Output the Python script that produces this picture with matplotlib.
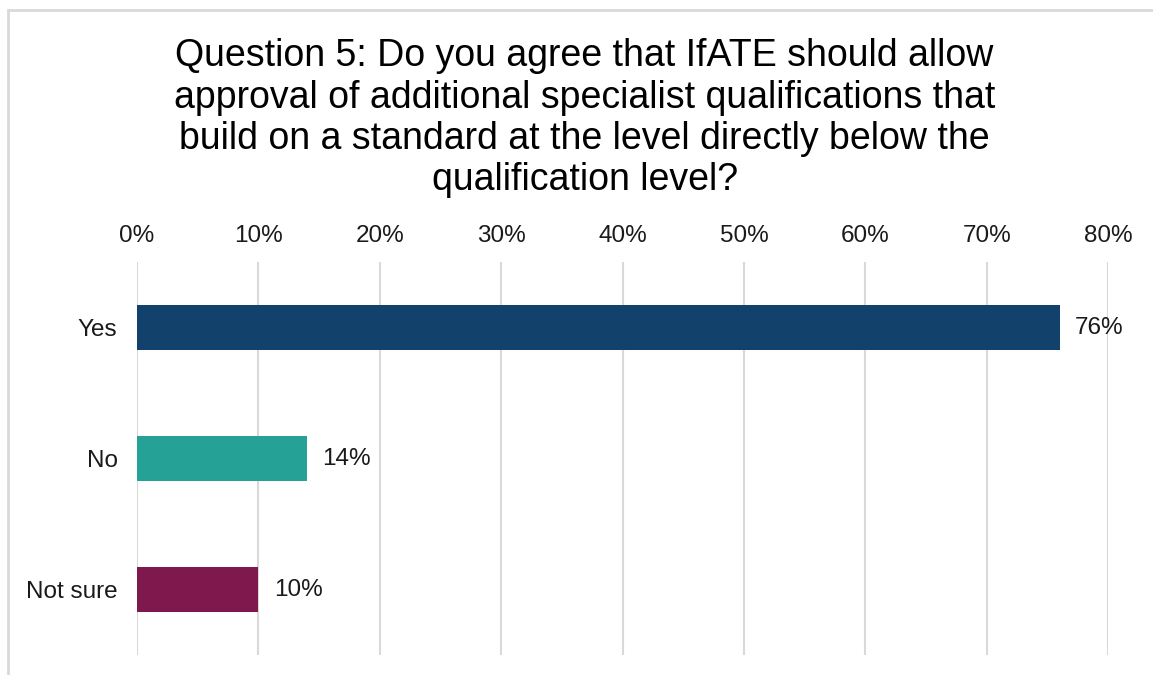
import matplotlib.pyplot as plt
from matplotlib.patches import Rectangle

plt.rcParams['font.family'] = ['Liberation Sans', 'DejaVu Sans']

# Survey answers (percent of respondents)
categories = ['Yes', 'No', 'Not sure']
values = [76, 14, 10]
colors = ['#12416B', '#26A195', '#7E184D']
x_ticks = [0, 10, 20, 30, 40, 50, 60, 70, 80]

title = ('Question 5: Do you agree that IfATE should allow\n'
         'approval of additional specialist qualifications that\n'
         'build on a standard at the level directly below the\n'
         'qualification level?')

fig = plt.figure(figsize=(11.53, 6.75), dpi=100)
ax = fig.add_axes([0.1188, 0.0296, 0.8423, 0.5822])

y = list(range(len(categories)))
ax.barh(y, values, height=0.35, color=colors, zorder=3)

for yi, v in zip(y, values):
    ax.annotate(f'{v}%', (v, yi), xytext=(11, 0), textcoords='offset points',
                va='center', ha='left', fontsize=17.5, color='#1a1a1a')

ax.set_xlim(0, 80)
ax.set_ylim(len(categories) - 0.5, -0.5)
ax.set_xticks(x_ticks)
ax.set_xticklabels([f'{t}%' for t in x_ticks])
ax.set_yticks(y)
ax.set_yticklabels(categories)
ax.xaxis.tick_top()
ax.tick_params(axis='x', length=0, pad=11, labelsize=17.5, labelcolor='#1a1a1a')
ax.tick_params(axis='y', length=0, pad=14, labelsize=17.5, labelcolor='#1a1a1a')
ax.grid(axis='x', color='#D9D9D9', linewidth=1.5, zorder=0)
for s in ax.spines.values():
    s.set_visible(False)

fig.text(0.507, 0.943, title, ha='center', va='top', fontsize=27,
         linespacing=1.19, color='#000000')

# chart frame, cut off at the right and bottom edges
fig.patches.append(Rectangle((8 / 1153, -0.1), 1.2, 1 - 10 / 675 + 0.1,
                             transform=fig.transFigure, fill=False,
                             edgecolor='#D9D9D9', linewidth=2))

fig.savefig('out.png', dpi=100)
